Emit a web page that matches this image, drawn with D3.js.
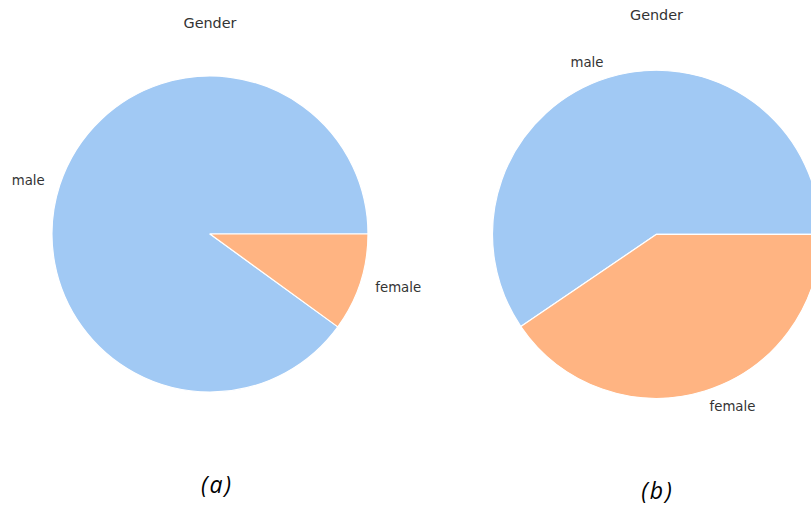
<!DOCTYPE html>
<html>
<head>
<meta charset="utf-8">
<script src="https://cdn.jsdelivr.net/npm/d3@7"></script>
<style>
  html, body { margin: 0; padding: 0; background: #fff; }
  svg { display: block; }
</style>
</head>
<body>
<svg id="chart" width="811" height="511"></svg>
<script>
// ---- data ----
const categories = ["male", "female"];
const valuesA = [90, 10];
const valuesB = [59.5, 40.5];
const colors = ["#a1c9f4", "#ffb482"];
const titles = ["Gender", "Gender"];
const captions = ["(a)", "(b)"];

// ---- layout ----
const svg = d3.select("#chart");
const panels = [
  { values: valuesA, cx: 210, cy: 234, r: 158, titleY: 28, capX: 217, capY: 493, title: titles[0], caption: captions[0] },
  { values: valuesB, cx: 656.5, cy: 234.3, r: 164, titleY: 20, capX: 657.5, capY: 499, title: titles[1], caption: captions[1] }
];

const color = d3.scaleOrdinal().domain(categories).range(colors);

panels.forEach(p => {
  const data = categories.map((c, i) => ({ cat: c, value: p.values[i] }));
  // matplotlib style: start at 3 o'clock, counterclockwise
  const pie = d3.pie().value(d => d.value).sort(null)
    .startAngle(Math.PI / 2).endAngle(Math.PI / 2 - 2 * Math.PI);
  const arcs = pie(data);
  const arc = d3.arc().innerRadius(0).outerRadius(p.r);
  const g = svg.append("g").attr("transform", `translate(${p.cx},${p.cy})`);

  g.selectAll("path").data(arcs).enter().append("path")
    .attr("d", arc)
    .attr("fill", d => color(d.data.cat))
    .attr("stroke", "#fff")
    .attr("stroke-width", 1.2)
    .attr("stroke-linejoin", "round");

  g.selectAll("text.lbl").data(arcs).enter().append("text")
    .attr("class", "lbl")
    .each(function (d) {
      const mid = (d.startAngle + d.endAngle) / 2;
      const x = Math.sin(mid) * p.r * 1.1;
      const y = -Math.cos(mid) * p.r * 1.1;
      d3.select(this)
        .attr("x", x).attr("y", y)
        .attr("dy", "0.35em")
        .attr("text-anchor", x > 0 ? "start" : "end");
    })
    .attr("font-family", "DejaVu Sans, sans-serif")
    .attr("font-size", 13.3)
    .attr("fill", "#333")
    .text(d => d.data.cat);

  svg.append("text")
    .attr("x", p.cx).attr("y", p.titleY)
    .attr("text-anchor", "middle")
    .attr("font-family", "DejaVu Sans, sans-serif")
    .attr("font-size", 14.4)
    .attr("fill", "#333")
    .text(p.title);

  svg.append("text")
    .attr("x", p.capX).attr("y", p.capY)
    .attr("text-anchor", "middle")
    .attr("font-family", "Open Sans, sans-serif")
    .attr("font-style", "italic")
    .attr("font-size", 23)
    .attr("letter-spacing", 2)
    .attr("fill", "#000")
    .text(p.caption);
});
</script>
</body>
</html>
